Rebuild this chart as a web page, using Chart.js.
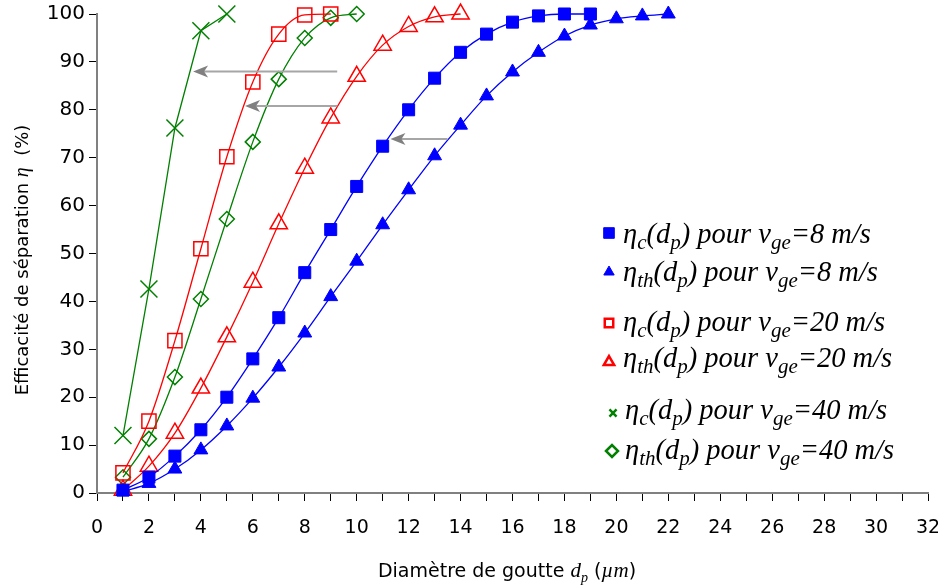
<!DOCTYPE html>
<html>
<head>
<meta charset="utf-8">
<script src="https://cdn.jsdelivr.net/npm/chart.js@4"></script>
<style>
  html, body { margin: 0; padding: 0; background: #fff; }
  #wrap { width: 938px; height: 587px; }
</style>
</head>
<body>
<div id="wrap"><canvas id="myChart" width="938" height="587"></canvas></div>
<script>
// droplet diameter (µm) for each measured point
var dp = [1, 2, 3, 4, 5, 6, 7, 8, 9, 10, 11, 12, 13, 14, 15, 16, 17, 18, 19, 20, 21, 22];

// separation efficiency (%)
var etaC8   = [0.6, 3.3, 7.7, 13.2, 20, 28, 36.6, 46, 55, 64, 72.4, 80, 86.6, 92, 95.8, 98.3, 99.6, 100, 100];
var etaTh8  = [0.3, 2, 5, 9, 14, 19.8, 26.3, 33.4, 41, 48.4, 56, 63.3, 70.4, 76.8, 82.9, 87.9, 92, 95.4, 97.7, 99, 99.6, 100];
var etaC20  = [4.2, 15, 31.8, 51, 70.2, 85.8, 95.8, 99.8, 100];
var etaTh20 = [0.6, 5.6, 12.5, 21.9, 32.6, 44, 56.2, 67.8, 78.3, 87, 93.5, 97.4, 99.4, 100];
var etaC40  = [12, 42.6, 76.2, 96.5, 100];
var etaTh40 = [3.3, 11.3, 24.2, 40.5, 57.2, 73.3, 86.4, 95, 99.2, 100];

// grey arrows: [x from, x to, y]
var arrows = [[9.25, 3.7, 88], [9.25, 5.7, 80.8], [13.5, 11.3, 73.9]];

var xTicks = [0, 32, 1];
var yTicks = [0, 100, 10];

function pts(vals) {
    return vals.map(function (v, i) { return { x: dp[i], y: v }; });
}

var BLUE = '#0000ff', RED = '#ff0000', GREEN = '#008000';
var SERIF = '"Liberation Serif", "Times New Roman", serif';
var SANS = '"DejaVu Sans", Verdana, sans-serif';

function drawRich(ctx, parts, x, y) {
    parts.forEach(function (p) {
        ctx.font = p.f;
        ctx.fillText(p.t, x, y + (p.dy || 0));
        x += ctx.measureText(p.t).width;
    });
}
function richWidth(ctx, parts) {
    var w = 0;
    parts.forEach(function (p) { ctx.font = p.f; w += ctx.measureText(p.t).width; });
    return w;
}

function legendParts(sub, speed) {
    var big = 'italic 28.5px ' + SERIF, small = 'italic 21px ' + SERIF;
    return [
        { t: 'η', f: big }, { t: sub, f: small, dy: 6 },
        { t: '(d', f: big }, { t: 'p', f: small, dy: 6 },
        { t: ') pour v', f: big }, { t: 'ge', f: small, dy: 6 },
        { t: '=' + speed + ' m/s', f: big }
    ];
}

var legendRows = [
    { sub: 'c',  speed: '8',  y: 243, mx: 609, my: 233, style: 'rect',     r: 7.5, color: BLUE,  fill: true,  tx: 623 },
    { sub: 'th', speed: '8',  y: 281, mx: 609, my: 272, style: 'triangle', r: 6, color: BLUE,  fill: true,  tx: 623 },
    { sub: 'c',  speed: '20', y: 331, mx: 609, my: 323, style: 'rect',     r: 6, color: RED,   fill: false, tx: 623 },
    { sub: 'th', speed: '20', y: 367, mx: 609, my: 362, style: 'triangle', r: 6, color: RED,   fill: false, tx: 623 },
    { sub: 'c',  speed: '40', y: 419, mx: 613, my: 413, style: 'crossRot', r: 5, color: GREEN, fill: false, tx: 625 },
    { sub: 'th', speed: '40', y: 459, mx: 612, my: 451, style: 'rectRot',  r: 6, color: GREEN, fill: false, tx: 625 }
];

var extras = {
    id: 'extras',
    afterDraw: function (chart) {
        var ctx = chart.ctx, xs = chart.scales.x, ys = chart.scales.y;
        ctx.save();

        // arrows
        arrows.forEach(function (a) {
            var x1 = xs.getPixelForValue(a[0]), x2 = xs.getPixelForValue(a[1]), y = ys.getPixelForValue(a[2]);
            ctx.strokeStyle = '#a6a6a6';
            ctx.lineWidth = 2;
            ctx.beginPath(); ctx.moveTo(x1, y); ctx.lineTo(x2 + 10, y); ctx.stroke();
            ctx.fillStyle = '#808080';
            ctx.beginPath();
            ctx.moveTo(x2, y); ctx.lineTo(x2 + 15, y - 6); ctx.lineTo(x2 + 11, y); ctx.lineTo(x2 + 15, y + 6);
            ctx.closePath(); ctx.fill();
        });

        // legend
        ctx.fillStyle = '#000';
        ctx.textBaseline = 'alphabetic';
        ctx.textAlign = 'left';
        legendRows.forEach(function (r) {
            ctx.save();
            ctx.strokeStyle = r.color;
            ctx.fillStyle = r.fill ? r.color : '#fff';
            ctx.lineWidth = r.fill ? 1 : 2.5;
            Chart.helpers.drawPoint(ctx, { pointStyle: r.style, radius: r.r, rotation: 0, borderWidth: ctx.lineWidth }, r.mx, r.my);
            ctx.restore();
            ctx.fillStyle = '#000';
            drawRich(ctx, legendParts(r.sub, r.speed), r.tx, r.y);
        });

        // x axis title
        var xt = [
            { t: 'Diamètre de goutte ', f: '19px ' + SANS },
            { t: 'd', f: 'italic 21px ' + SERIF },
            { t: 'p', f: 'italic 14px ' + SERIF, dy: 5 },
            { t: ' (', f: '19px ' + SANS },
            { t: 'µm', f: 'italic 21px ' + SERIF },
            { t: ')', f: '19px ' + SANS }
        ];
        drawRich(ctx, xt, 507 - richWidth(ctx, xt) / 2, 577);

        // y axis title
        var yt = [
            { t: 'Efficacité de séparation ', f: '18px ' + SANS },
            { t: 'η', f: 'italic 20px ' + SERIF },
            { t: '  (%)', f: '18px ' + SANS }
        ];
        ctx.translate(28, 260);
        ctx.rotate(-Math.PI / 2);
        drawRich(ctx, yt, -richWidth(ctx, yt) / 2, 0);
        ctx.restore();
    }
};

function series(label, vals, color, style, radius, filled, tension) {
    return {
        label: label,
        data: pts(vals),
        borderColor: color,
        backgroundColor: color,
        borderWidth: 1.3,
        pointStyle: style,
        pointRadius: radius,
        pointBorderWidth: filled ? 1 : 1.5,
        pointBackgroundColor: filled ? color : 'rgba(255,255,255,0)',
        pointBorderColor: color,
        cubicInterpolationMode: tension ? 'monotone' : 'default',
        tension: 0,
        fill: false,
        clip: false
    };
}

var ctx = document.getElementById('myChart').getContext('2d');
var myChart = new Chart(ctx, {
    type: 'line',
    data: {
        datasets: [
            series('ηc 8', etaC8, BLUE, 'rect', 8.5, true, true),
            series('ηth 8', etaTh8, BLUE, 'triangle', 8, true, true),
            series('ηc 20', etaC20, RED, 'rect', 10, false, true),
            series('ηth 20', etaTh20, RED, 'triangle', 10, false, true),
            series('ηc 40', etaC40, GREEN, 'crossRot', 12, false, false),
            series('ηth 40', etaTh40, GREEN, 'rectRot', 7.5, false, true)
        ]
    },
    options: {
        responsive: false,
        animation: false,
        layout: { autoPadding: false, padding: { top: 14, right: 0, left: 0, bottom: 0 } },
        plugins: { legend: { display: false }, tooltip: { enabled: false } },
        scales: {
            x: {
                type: 'linear',
                min: xTicks[0], max: xTicks[1],
                afterFit: function (s) { s.height = 94; s.paddingRight = 10; s.paddingLeft = 0; },
                border: { color: '#808080', width: 2 },
                grid: { drawOnChartArea: false, tickLength: 8, color: '#000', tickWidth: 1 },
                ticks: {
                    stepSize: xTicks[2], autoSkip: false, maxRotation: 0,
                    padding: 16, color: '#000',
                    font: { family: 'DejaVu Sans', size: 19 },
                    callback: function (v) { return v % 2 === 0 ? v : ''; }
                }
            },
            y: {
                min: yTicks[0], max: yTicks[1],
                afterFit: function (s) { s.width = 97; s.paddingTop = 0; },
                border: { color: '#808080', width: 2 },
                grid: { drawOnChartArea: false, tickLength: 8, color: '#000', tickWidth: 1 },
                ticks: {
                    stepSize: yTicks[2], padding: 4, color: '#000',
                    font: { family: 'DejaVu Sans', size: 20 }
                }
            }
        }
    },
    plugins: [extras]
});
</script>
</body>
</html>
